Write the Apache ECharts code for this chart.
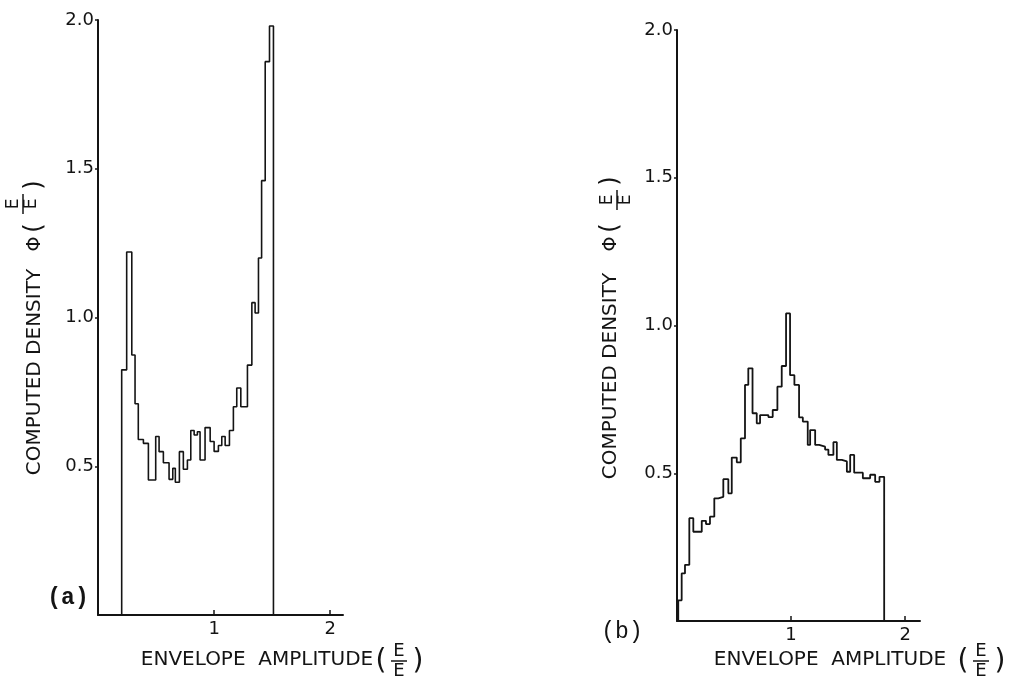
<!DOCTYPE html>
<html>
<head>
<meta charset="utf-8">
<script src="https://cdn.jsdelivr.net/npm/echarts@6/dist/echarts.min.js"></script>
<style>
html, body { margin: 0; padding: 0; background: #fff; }
#main { width: 1025px; height: 692px; }
</style>
</head>
<body>
<div id="main"></div>
<script>
// (a) left edge of each histogram bin, in units of E/Ē, and its density
var edgesA = [0.204, 0.247, 0.291, 0.319, 0.347, 0.391, 0.434, 0.497, 0.526, 0.563,
    0.612, 0.644, 0.666, 0.701, 0.735, 0.770, 0.799, 0.828, 0.856, 0.879,
    0.922, 0.966, 1.000, 1.037, 1.066, 1.095, 1.132, 1.166, 1.195, 1.230,
    1.287, 1.325, 1.353, 1.382, 1.409, 1.440, 1.477];
var densA = [0.824, 1.22, 0.874, 0.71, 0.59, 0.577, 0.454, 0.60, 0.549, 0.512,
    0.456, 0.493, 0.446, 0.549, 0.49, 0.521, 0.62, 0.605, 0.616, 0.521,
    0.63, 0.583, 0.55, 0.57, 0.60, 0.57, 0.62, 0.70, 0.763, 0.70,
    0.84, 1.05, 1.015, 1.20, 1.46, 1.86, 1.98];
var endA = 1.511;

// (b)
var edgesB = [0.011, 0.041, 0.070, 0.108, 0.143, 0.217, 0.254, 0.289, 0.327, 0.362,
    0.406, 0.450, 0.480, 0.524, 0.559, 0.596, 0.625, 0.662, 0.699, 0.728,
    0.801, 0.839, 0.880, 0.918, 0.956, 0.991, 1.029, 1.070, 1.103, 1.146,
    1.167, 1.211, 1.246, 1.298, 1.327, 1.371, 1.401, 1.445, 1.489, 1.518,
    1.553, 1.629, 1.693, 1.737, 1.775];
var densB = [0.07, 0.161, 0.19, 0.348, 0.302, 0.339, 0.328, 0.353, 0.415, 0.42,
    0.48, 0.432, 0.553, 0.537, 0.618, 0.799, 0.855, 0.703, 0.669, 0.697,
    0.69, 0.714, 0.793, 0.863, 1.041, 0.832, 0.799, 0.689, 0.675, 0.596,
    0.646, 0.596, 0.59, 0.58, 0.562, 0.605, 0.545, 0.54, 0.505, 0.562,
    0.502, 0.483, 0.495, 0.471, 0.488];
var endB = 1.816;

var xTicks = [1, 2];
var yTicks = [0.5, 1.0, 1.5, 2.0];

var ink = '#141414';
var font = 'DejaVu Sans';

// step outline of a histogram: up from 0, across each bin, back down to 0
var histo = function (edges, dens, end) {
    var pts = [[edges[0], 0]];
    for (var i = 0; i < edges.length; i++) {
        pts.push([edges[i], dens[i]]);
    }
    pts.push([end, 0]);
    return pts;
};

var xAx = function (idx, max) {
    return {
        type: 'value', gridIndex: idx, min: 0, max: max,
        axisLine: { lineStyle: { color: ink, width: 2 } },
        axisTick: { inside: true, length: 5, customValues: xTicks, lineStyle: { color: ink, width: 1.5 } },
        axisLabel: { customValues: xTicks, color: ink, fontFamily: font, fontSize: 18, margin: 5 },
        splitLine: { show: false }
    };
};

var yAx = function (idx) {
    return {
        type: 'value', gridIndex: idx, min: 0, max: 2,
        axisLine: { lineStyle: { color: ink, width: 2 } },
        axisTick: { length: 3, customValues: yTicks, lineStyle: { color: ink, width: 1.5 } },
        axisLabel: {
            customValues: yTicks, color: ink, fontFamily: font, fontSize: 18, margin: 4,
            formatter: function (v) { return v.toFixed(1); }
        },
        splitLine: { show: false }
    };
};

var txt = function (s, x, y, size, rot, fam, weight) {
    return {
        type: 'text', x: x, y: y, rotation: rot || 0,
        style: {
            text: s, fill: ink, font: (weight || 'normal') + ' ' + size + 'px ' + (fam || font),
            align: 'center', verticalAlign: 'middle'
        }
    };
};

var bar = function (x1, y1, x2, y2) {
    return { type: 'line', shape: { x1: x1, y1: y1, x2: x2, y2: y2 }, style: { stroke: ink, lineWidth: 1.5 } };
};

// vertical "COMPUTED DENSITY Φ(E/Ē)" label; cx = centre of the letters, bx = fraction bar
var yName = function (cx, bx, yText, yPhi, yFrac) {
    var r = Math.PI / 2;
    return [
        txt('COMPUTED DENSITY', cx, yText, 20, r),
        txt('Φ', cx, yPhi, 19, r),
        txt('(', cx, yPhi - 16, 24, r),
        txt('E', bx - 9, yFrac, 17, r),
        bar(bx, yFrac - 10, bx, yFrac + 10),
        txt('E', bx + 9, yFrac, 17, r),
        txt(')', cx, yFrac - 19, 24, r)
    ];
};

// horizontal "ENVELOPE AMPLITUDE (E/Ē)" label
var xName = function (cx, cy, fx) {
    return [
        txt('ENVELOPE  AMPLITUDE', cx, cy, 20),
        txt('(', fx - 18, cy + 2, 28),
        txt('E', fx, cy - 9, 18),
        bar(fx - 8, cy + 1, fx + 8, cy + 1),
        txt('E', fx, cy + 11, 18),
        txt(')', fx + 19, cy + 2, 28)
    ];
};

var option = {
    backgroundColor: '#fff',
    animation: false,
    grid: [
        { left: 98, top: 20, width: 245, height: 595 },
        { left: 677, top: 30, width: 243, height: 591 }
    ],
    xAxis: [xAx(0, 2.11), xAx(1, 2.13)],
    yAxis: [yAx(0), yAx(1)],
    series: [
        {
            type: 'line', xAxisIndex: 0, yAxisIndex: 0, step: 'end', symbol: 'none',
            lineStyle: { color: ink, width: 1.6 }, data: histo(edgesA, densA, endA)
        },
        {
            type: 'line', xAxisIndex: 1, yAxisIndex: 1, step: 'end', symbol: 'none',
            lineStyle: { color: ink, width: 1.8 }, data: histo(edgesB, densB, endB)
        }
    ],
    graphic: []
        .concat(yName(35, 23, 372, 244, 204))
        .concat(yName(611, 617, 376, 244, 200))
        .concat(xName(257, 660, 399))
        .concat(xName(830, 660, 981))
        .concat([
            txt('(a)', 68, 598, 23, 0, 'Liberation Mono', 'bold'),
            txt('(b)', 622, 632, 23, 0, 'Liberation Mono')
        ])
};

var myChart = echarts.init(document.getElementById('main'));
myChart.setOption(option);
</script>
</body>
</html>
